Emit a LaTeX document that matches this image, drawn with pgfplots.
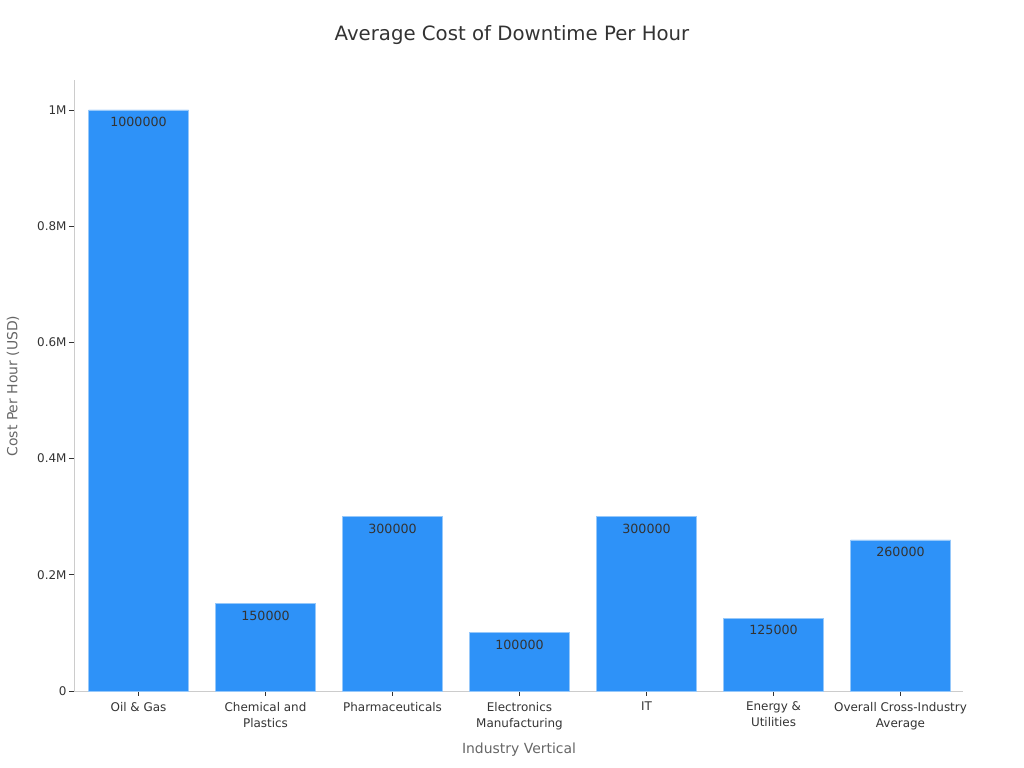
\documentclass[border=0pt]{standalone}
\usepackage{pgfplots}
\pgfplotsset{compat=1.18}
\usepackage{fontspec}
\setmainfont{DejaVu Sans}

\definecolor{barblue}{RGB}{46,146,248}
\definecolor{baredge}{RGB}{150,200,250}
\definecolor{axgray}{RGB}{204,204,204}
\definecolor{txtdark}{RGB}{51,51,51}
\definecolor{txtgray}{RGB}{102,102,102}

\begin{document}
\begin{tikzpicture}
\useasboundingbox (0,0) rectangle (1024bp,768bp);
\begin{axis}[
  at={(74bp,77bp)}, anchor=south west,
  scale only axis,
  width=889bp, height=611bp,
  xmin=-0.508, xmax=6.492,
  ymin=0, ymax=1051600,
  axis x line*=bottom, axis y line*=left,
  axis line style={axgray, line width=0.8pt},
  every tick/.style={txtdark, line width=0.6pt},
  major tick length=5bp,
  tick align=outside,
  /pgf/number format/assume math mode=true,
  xtick={0,1,2,3,4,5,6},
  xticklabels={Oil \& Gas, {Chemical and\\Plastics}, Pharmaceuticals, {Electronics\\Manufacturing}, IT, {Energy \&\\Utilities}, {Overall Cross-Industry\\Average}},
  xticklabel style={align=center, font=\fontsize{12}{16}\selectfont, text=txtdark, yshift=-2.5bp},
  ytick={0,200000,400000,600000,800000,1000000},
  yticklabels={0,0.2M,0.4M,0.6M,0.8M,1M},
  scaled y ticks=false,
  yticklabel style={font=\fontsize{12}{14}\selectfont, text=txtdark, xshift=1bp},
  ybar, bar width=100bp,
  point meta=explicit symbolic,
  nodes near coords,
  nodes near coords style={anchor=north, yshift=-3.5bp, font=\fontsize{12.7}{14}\selectfont, text=txtdark},
  clip=false,
]
\addplot[fill=barblue, draw=baredge, line width=0.8pt] coordinates {
  (0,1000000) [1000000]
  (1,150000) [150000]
  (2,300000) [300000]
  (3,100000) [100000]
  (4,300000) [300000]
  (5,125000) [125000]
  (6,260000) [260000]
};
\end{axis}
\node[text=txtdark, font=\fontsize{19.8}{22}\selectfont] at (512bp,733bp) {Average Cost of Downtime Per Hour};
\node[text=txtgray, font=\fontsize{14}{16}\selectfont] at (519bp,18bp) {Industry Vertical};
\node[text=txtgray, font=\fontsize{14}{16}\selectfont, rotate=90] at (13bp,382bp) {Cost Per Hour (USD)};
\end{tikzpicture}
\end{document}
